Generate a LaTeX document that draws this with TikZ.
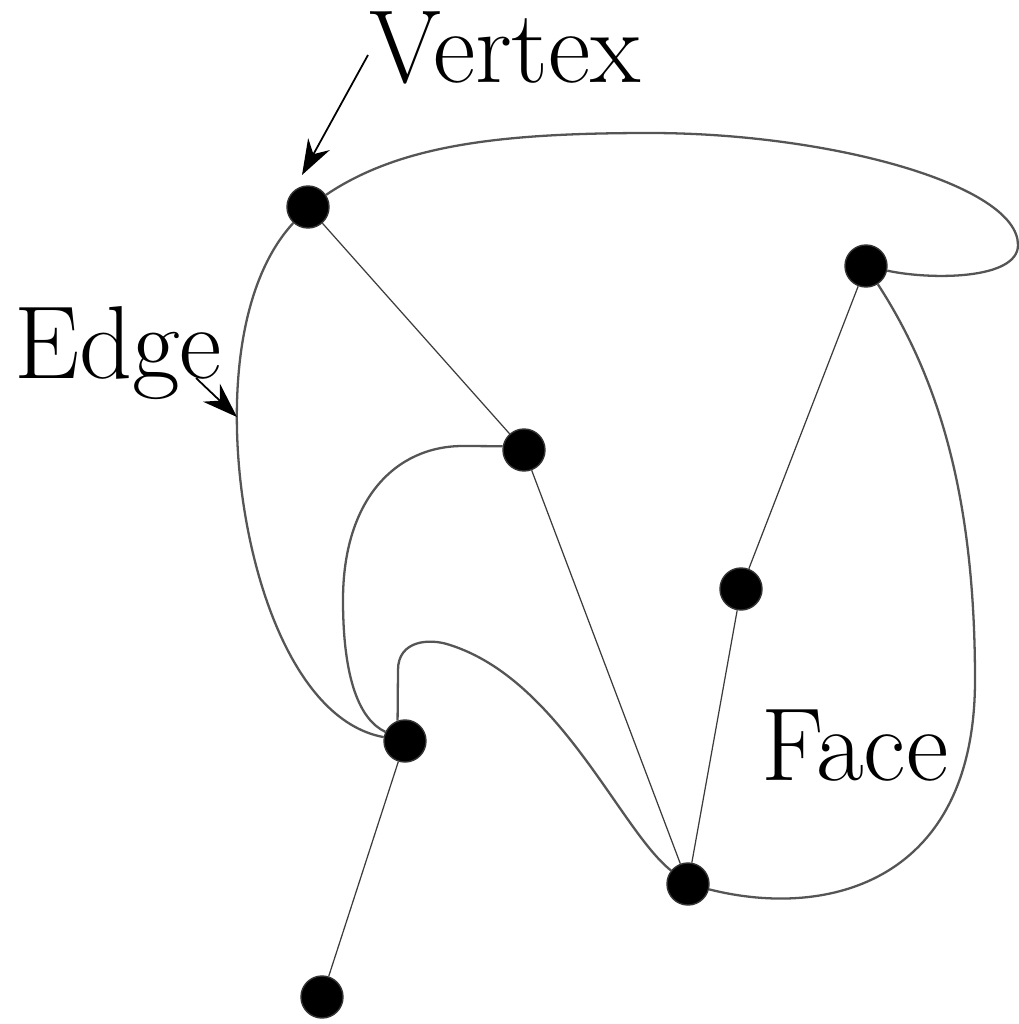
\documentclass[tikz,border=0pt]{standalone}
\usepackage{xcolor}
\usepackage{tikz}
\usetikzlibrary{arrows.meta}
\definecolor{ink}{HTML}{000000}
\definecolor{curvegray}{HTML}{555555}
\definecolor{linegray}{HTML}{3A3A3A}

\begin{document}
\begin{tikzpicture}[x=0.01cm,y=-0.01cm,
    vertexdot/.style={circle,fill=ink,draw=ink!80,inner sep=0pt,minimum size=0.42cm},
    curvedge/.style={curvegray,line width=0.65pt},
    straightedge/.style={linegray,line width=0.35pt},
    bigword/.style={font=\fontsize{29.5}{33}\selectfont,anchor=base,inner sep=0pt},
    pointer/.style={-{Stealth[length=10pt,width=7pt]},ink,line width=0.5pt}]
  \useasboundingbox (0,0) rectangle (1019,1024);
  % vertices
  \node[vertexdot] (a) at (308,207) {};
  \node[vertexdot] (b) at (866,266) {};
  \node[vertexdot] (c) at (524,450) {};
  \node[vertexdot] (d) at (741,589) {};
  \node[vertexdot] (e) at (405,741) {};
  \node[vertexdot] (f) at (688,884) {};
  \node[vertexdot] (g) at (322,997) {};
  % straight edges
  \draw[straightedge] (a) -- (c);
  \draw[straightedge] (c) -- (f);
  \draw[straightedge] (b) -- (d);
  \draw[straightedge] (d) -- (f);
  \draw[straightedge] (e) -- (g);
  % curved edges
  \draw[curvedge] (a) .. controls (400,145) and (500,133) .. (650,133)
        .. controls (830,133) and (1018,185) .. (1018,245)
        .. controls (1018,280) and (930,280) .. (b);
  \draw[curvedge] (a) .. controls (250,270) and (235,350) .. (237,430)
        .. controls (240,560) and (290,720) .. (e);
  \draw[curvedge] (c.170) -- (463,446) .. controls (395,446) and (343,500) .. (343,600)
        .. controls (343,680) and (360,720) .. (e);
  \draw[curvedge] (e.110) -- (398,670) .. controls (398,640) and (430,638) .. (450,645)
        .. controls (560,680) and (620,830) .. (f);
  \draw[curvedge] (b) .. controls (940,380) and (975,500) .. (975,680)
        .. controls (975,880) and (830,920) .. (f);
  % labels
  \node[bigword] (vlabel) at (505,82) {Vertex};
  \node[bigword] (elabel) at (118,378) {Edge};
  \node[bigword] (flabel) at (855,780) {Face};
  \coordinate (vtail) at (368,55);
  \coordinate (vtip) at (302,175);
  \coordinate (etail) at (196,378);
  \coordinate (etip) at (237,417);
  \draw[pointer] (vtail) -- (vtip);
  \draw[pointer] (etail) -- (etip);
\end{tikzpicture}
\end{document}
